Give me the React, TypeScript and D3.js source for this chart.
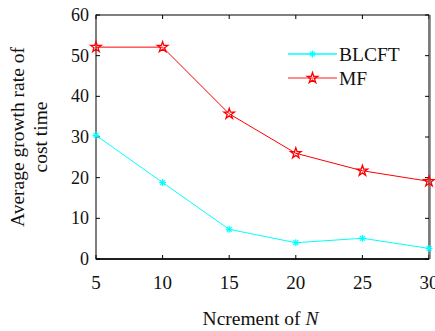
import React, { useEffect, useRef } from 'react';
import * as d3 from 'd3';

const increments = [5, 10, 15, 20, 25, 30];
const blcft = [30.4, 18.8, 7.3, 4.0, 5.1, 2.6];
const mf = [52.1, 52.1, 35.7, 26.0, 21.7, 19.1];
const xTicks = [5, 10, 15, 20, 25, 30];
const yTicks = [0, 10, 20, 30, 40, 50, 60];

const App = () => {
  const svgRef = useRef<SVGSVGElement>(null);

  useEffect(() => {
    const svg = d3.select(svgRef.current);
    svg.selectAll('*').remove();

    const margin = { top: 15, right: 6, bottom: 72, left: 96 };
    const width = 435;
    const height = 331;
    const font = 'Liberation Serif, Times New Roman, serif';

    const x = d3.scaleLinear().domain([5, 30]).range([margin.left, width - margin.right]);
    const y = d3.scaleLinear().domain([0, 60]).range([height - margin.bottom, margin.top]);

    svg.append('rect').attr('width', width).attr('height', height).attr('fill', '#fff');

    const x0 = x(5), x1 = x(30), y0 = y(0), y1 = y(60);
    const tick = 4;

    const axes = svg.append('g').attr('stroke', '#000').attr('stroke-width', 1);
    xTicks.forEach(t => {
      axes.append('line').attr('x1', x(t)).attr('x2', x(t)).attr('y1', y0).attr('y2', y0 - tick);
      axes.append('line').attr('x1', x(t)).attr('x2', x(t)).attr('y1', y1).attr('y2', y1 + tick);
    });
    yTicks.forEach(t => {
      axes.append('line').attr('x1', x0).attr('x2', x0 + tick).attr('y1', y(t)).attr('y2', y(t));
      axes.append('line').attr('x1', x1).attr('x2', x1 - tick).attr('y1', y(t)).attr('y2', y(t));
    });
    axes.append('rect')
      .attr('x', x0).attr('y', y1)
      .attr('width', x1 - x0).attr('height', y0 - y1)
      .attr('fill', 'none');
    axes.append('line').attr('x1', x0).attr('x2', x1).attr('y1', y0).attr('y2', y0).attr('stroke-width', 1.6);
    axes.append('line').attr('x1', x1 + 1).attr('x2', x1 + 1).attr('y1', y1).attr('y2', y0)
      .attr('stroke', '#777').attr('stroke-width', 1.5);

    svg.append('g').selectAll('text').data(xTicks).enter().append('text')
      .attr('x', d => x(d)).attr('y', y0 + 30)
      .attr('text-anchor', 'middle')
      .attr('font-family', font).attr('font-size', 19).attr('fill', '#111')
      .text(d => d);

    svg.append('g').selectAll('text').data(yTicks).enter().append('text')
      .attr('x', x0 - 7).attr('y', d => y(d) + 6)
      .attr('text-anchor', 'end')
      .attr('font-family', font).attr('font-size', 18).attr('fill', '#111')
      .text(d => d);

    const yTitle = svg.append('text')
      .attr('transform', `translate(24,${(y0 + y1) / 2}) rotate(-90)`)
      .attr('text-anchor', 'middle')
      .attr('font-family', font).attr('font-size', 19.5).attr('fill', '#111');
    yTitle.append('tspan').attr('x', 0).attr('dy', 0).text('Average growth rate of');
    yTitle.append('tspan').attr('x', 0).attr('dy', 23).text('cost time');

    const xTitle = svg.append('text')
      .attr('x', (x0 + x1) / 2 - 2).attr('y', 325)
      .attr('text-anchor', 'middle')
      .attr('font-family', font).attr('font-size', 19.5).attr('fill', '#111');
    xTitle.append('tspan').text('Ncrement of ');
    xTitle.append('tspan').attr('font-style', 'italic').text('N');

    const line = d3.line<number>()
      .x((_, i) => x(increments[i]))
      .y(d => y(d));

    svg.append('path').datum(mf).attr('d', line)
      .attr('fill', 'none').attr('stroke', '#f00').attr('stroke-width', 1);
    svg.append('path').datum(blcft).attr('d', line)
      .attr('fill', 'none').attr('stroke', '#0ff').attr('stroke-width', 1);

    const star = d3.symbol().type(d3.symbolStar).size(34);
    const drawStar = (g: any, cx: number, cy: number) => {
      g.append('path').attr('d', star())
        .attr('transform', `translate(${cx},${cy})`)
        .attr('fill', 'none').attr('stroke', '#f00').attr('stroke-width', 1.3);
    };
    const drawAsterisk = (g: any, cx: number, cy: number) => {
      const r = 3.5;
      const gg = g.append('g').attr('transform', `translate(${cx},${cy})`)
        .attr('stroke', '#0ff').attr('stroke-width', 1.2);
      gg.append('line').attr('x1', -r).attr('x2', r).attr('y1', 0).attr('y2', 0);
      gg.append('line').attr('x1', 0).attr('x2', 0).attr('y1', -r).attr('y2', r);
      gg.append('line').attr('x1', -r * 0.7).attr('x2', r * 0.7).attr('y1', -r * 0.7).attr('y2', r * 0.7);
      gg.append('line').attr('x1', -r * 0.7).attr('x2', r * 0.7).attr('y1', r * 0.7).attr('y2', -r * 0.7);
    };

    const marks = svg.append('g');
    mf.forEach((v, i) => drawStar(marks, x(increments[i]), y(v)));
    blcft.forEach((v, i) => drawAsterisk(marks, x(increments[i]), y(v)));

    const legend = svg.append('g');
    const lx0 = 288, lx1 = 337;
    const items = [
      { name: 'BLCFT', color: '#0ff', yPos: 54, draw: drawAsterisk },
      { name: 'MF', color: '#f66', yPos: 78, draw: drawStar },
    ];
    items.forEach(it => {
      legend.append('line').attr('x1', lx0).attr('x2', lx1).attr('y1', it.yPos).attr('y2', it.yPos)
        .attr('stroke', it.color).attr('stroke-width', 1.5);
      it.draw(legend, (lx0 + lx1) / 2, it.yPos);
      legend.append('text').attr('x', lx1 + 2).attr('y', it.yPos + 7)
        .attr('font-family', font).attr('font-size', 19.5).attr('fill', '#111')
        .text(it.name);
    });
  }, []);

  return (
    <svg ref={svgRef} width={435} height={331}
      style={{ position: 'absolute', left: 0, top: 0 }} />
  );
};

export default App;
